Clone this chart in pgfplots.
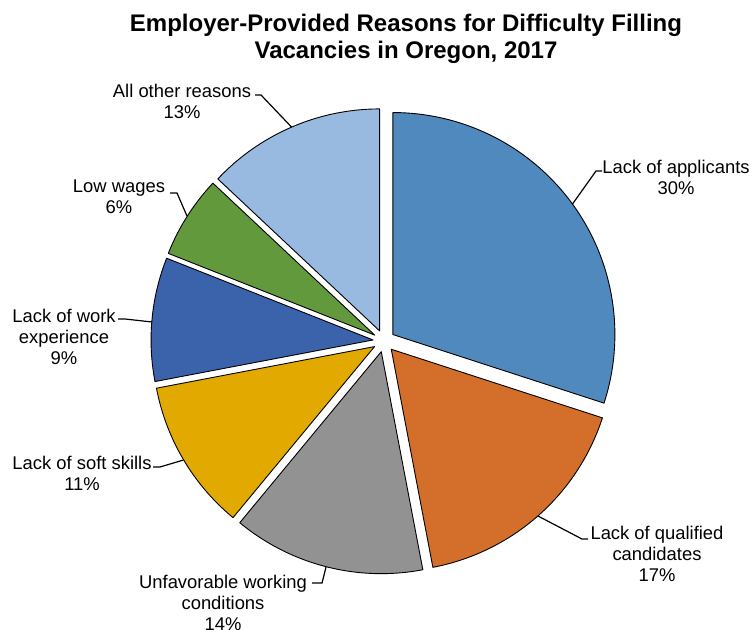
\documentclass[border=0pt]{standalone}
\usepackage{pgfplots}
\pgfplotsset{compat=1.18}
\usepackage{fontspec}
\setmainfont{Liberation Sans}
\definecolor{cApp}{HTML}{4F89BD}
\definecolor{cQual}{HTML}{D36F2B}
\definecolor{cUnf}{HTML}{929292}
\definecolor{cSoft}{HTML}{E2AA00}
\definecolor{cWork}{HTML}{3B63AC}
\definecolor{cWage}{HTML}{62993D}
\definecolor{cOther}{HTML}{98B9E0}
% \pieslice{start percent}{value percent}{colour}
\newcommand{\pieslice}[3]{%
  \pgfmathsetmacro{\aA}{90-3.6*#1}%
  \pgfmathsetmacro{\aB}{90-3.6*(#1+#2)}%
  \pgfmathsetmacro{\aM}{(\aA+\aB)/2}%
  \pgfmathsetmacro{\cx}{384+11*cos(\aM)}%
  \pgfmathsetmacro{\cy}{288+11*sin(\aM)}%
  \edef\doslice{\noexpand\addplot[fill=#3, draw=black, line width=0.45pt, line join=round, domain=\aB:\aA, samples=90, variable=\noexpand\t] ({\cx+222*cos(\noexpand\t)},{\cy+222*sin(\noexpand\t)}) -- (axis cs:\cx,\cy) -- cycle;}%
  \doslice}
\begin{document}
\begin{tikzpicture}
\useasboundingbox (0,0) rectangle (377pt,314.5pt);
\begin{axis}[
  at={(0,0)}, anchor=south west,
  scale only axis, width=377pt, height=314.5pt,
  xmin=0, xmax=754, ymin=0, ymax=629,
  hide axis, clip=true,
  label style={font=\fontsize{9.2}{10.5}\selectfont},
]
% slices: cumulative start, value (percent)
\pieslice{0}{30}{cApp}
\pieslice{30}{17}{cQual}
\pieslice{47}{14}{cUnf}
\pieslice{61}{11}{cSoft}
\pieslice{72}{9}{cWork}
\pieslice{81}{6}{cWage}
\pieslice{87}{13}{cOther}
% leader lines
\addplot[black, line width=0.6pt] coordinates {(602,458) (596,458) (572.5,425)};
\addplot[black, line width=0.6pt] coordinates {(588,90) (582,90) (538,113)};
\addplot[black, line width=0.6pt] coordinates {(312,46) (322,46) (326,62)};
\addplot[black, line width=0.6pt] coordinates {(153,162) (160,162) (183.5,169)};
\addplot[black, line width=0.6pt] coordinates {(118,310) (125,310) (152,307)};
\addplot[black, line width=0.6pt] coordinates {(170,436) (177,436) (187,413)};
\addplot[black, line width=0.6pt] coordinates {(255,534) (261,534) (291.5,502)};
% labels
\begin{scope}[every node/.style={align=center, font=\fontsize{9.2}{10.5}\selectfont, inner sep=0pt}]
\node at (axis cs:676,452) {Lack of applicants\\30\%};
\node at (axis cs:657,75) {Lack of qualified\\candidates\\17\%};
\node at (axis cs:223,26) {Unfavorable working\\conditions\\14\%};
\node at (axis cs:82,156) {Lack of soft skills\\11\%};
\node at (axis cs:64,292) {Lack of work\\experience\\9\%};
\node at (axis cs:119,432) {Low wages\\6\%};
\node at (axis cs:182,528) {All other reasons\\13\%};
\end{scope}
\node[align=center, font=\fontsize{12}{13.5}\selectfont\bfseries, inner sep=0pt] at (axis cs:406,590.5) {Employer-Provided Reasons for Difficulty Filling\\Vacancies in Oregon, 2017};
\end{axis}
\end{tikzpicture}
\end{document}
